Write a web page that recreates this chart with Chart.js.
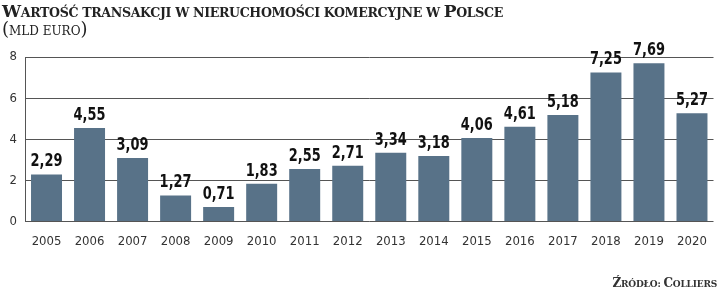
<!DOCTYPE html>
<html><head><meta charset="utf-8">
<script src="https://cdn.jsdelivr.net/npm/chart.js@4/dist/chart.umd.min.js"></script>
<style>
html,body{margin:0;padding:0;background:#fff;}
#wrap{position:relative;width:720px;height:293px;overflow:hidden;}
#c{position:absolute;left:0;top:0;}
.t{position:absolute;left:2px;font-family:'DejaVu Serif',serif;color:#222;white-space:nowrap;text-transform:uppercase;}
.title{top:1px;font-weight:bold;font-size:12.6px;letter-spacing:-0.35px;}
.title b{font-size:17px;}
.sub{top:18px;font-size:12px;}
.sub b{font-size:18px;font-weight:normal;}
.src{position:absolute;right:3px;top:276px;font-family:'DejaVu Serif',serif;font-weight:bold;font-size:9px;color:#333;white-space:nowrap;text-transform:uppercase;letter-spacing:-0.2px;}
.src b{font-size:12px;}
</style></head>
<body><div id="wrap">
<canvas id="c" width="720" height="293"></canvas>
<div class="t title"><b>W</b>artość transakcji w nieruchomości komercyjne w <b>P</b>olsce</div>
<div class="t sub"><b>(</b>mld euro<b>)</b></div>
<div class="src"><b>Ź</b>ródło: <b>C</b>olliers</div>
</div>
<script>
const years = ['2005','2006','2007','2008','2009','2010','2011','2012','2013','2014','2015','2016','2017','2018','2019','2020'];
const values = [2.29,4.55,3.09,1.27,0.71,1.83,2.55,2.71,3.34,3.18,4.06,4.61,5.18,7.25,7.69,5.27];
const yTicks = [0,2,4,6,8];

const NARROW = "'Liberation Sans Narrow','DejaVu Sans Condensed',sans-serif";

const labelPlugin = {
  id: 'valueLabels',
  afterDatasetsDraw(chart) {
    const ctx = chart.ctx;
    const meta = chart.getDatasetMeta(0);
    ctx.save();
    ctx.font = 'bold 18px "DejaVu Sans", sans-serif';
    ctx.fillStyle = '#111';
    ctx.textAlign = 'center';
    ctx.textBaseline = 'alphabetic';
    meta.data.forEach((bar, i) => {
      ctx.save();
      ctx.translate(bar.x, bar.y - 8);
      ctx.scale(0.72, 1);
      ctx.fillText(values[i].toFixed(2).replace('.', ','), 0, 0);
      ctx.restore();
    });
    ctx.restore();
  }
};

new Chart(document.getElementById('c'), {
  type: 'bar',
  data: {
    labels: years,
    datasets: [{
      data: values,
      backgroundColor: '#587288',
      barPercentage: 0.72,
      categoryPercentage: 1.0
    }]
  },
  options: {
    responsive: false,
    animation: false,
    devicePixelRatio: 1,
    layout: { padding: { top: 57, right: 6.5, left: 0, bottom: 0 } },
    plugins: { legend: { display: false }, tooltip: { enabled: false } },
    scales: {
      x: {
        grid: { display: false, drawTicks: false },
        border: { display: false },
        ticks: { color: '#333', padding: 12, font: { family: NARROW, size: 13 } },
        afterFit(s) { s.height = 71.5; }
      },
      y: {
        min: 0, max: 8,
        afterBuildTicks(s) { s.ticks = yTicks.map(v => ({ value: v })); },
        grid: { color: '#555', lineWidth: 1, drawTicks: false },
        border: { display: true, color: '#555', width: 1 },
        ticks: { color: '#333', padding: 8, font: { family: NARROW, size: 13 } },
        afterFit(s) { s.width = 25; }
      }
    }
  },
  plugins: [labelPlugin]
});
</script>
</body></html>
